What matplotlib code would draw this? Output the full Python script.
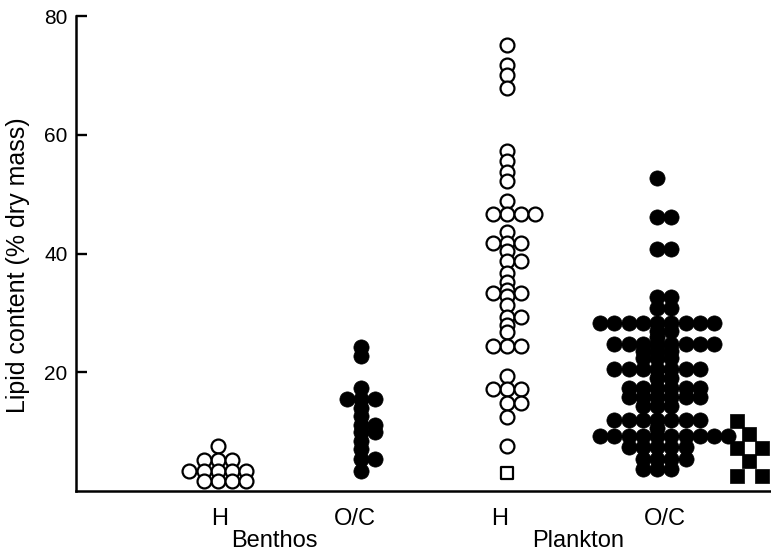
"""Lipid content of benthic and planktonic species, dot plot."""

import numpy as np
import matplotlib

matplotlib.use("Agg")
import matplotlib.pyplot as plt  # noqa: E402

plt.rcParams["font.family"] = ["Liberation Sans", "DejaVu Sans"]

# lipid content, % dry mass
benthos_h = [7.6, 5.2, 5.2, 5.2, 3.4, 3.4, 3.4, 3.4, 3.4, 1.7, 1.7, 1.7, 1.7]
benthos_oc = [24.3, 22.7, 17.3, 15.5, 15.5, 15.5, 13.9, 12.6, 11.2, 11.2,
              9.9, 9.9, 8.5, 7.0, 5.4, 5.4, 3.3]
plankton_h = [75.1, 71.8, 70.1, 67.8, 57.2, 55.5, 53.8, 52.2, 48.8,
              46.7, 46.7, 46.7, 46.7, 43.7, 41.8, 41.8, 41.8, 40.4,
              38.7, 38.7, 36.7, 35.2, 33.9, 33.3, 33.3, 32.8, 31.3,
              29.3, 29.3, 28.0, 26.7, 24.4, 24.4, 24.4, 19.4,
              17.1, 17.1, 17.1, 14.9, 14.9, 12.4, 7.6]
plankton_h_square = [3.1]
plankton_oc = ([52.7, 46.2, 46.2, 40.7, 40.7, 32.6, 32.6, 30.9, 30.9]
               + [28.3] * 9 + [27.0, 27.0, 26.0] + [24.8] * 8 + [23.6] * 3
               + [22.4] * 3 + [20.6] * 7 + [19.0] * 2 + [17.4] * 6
               + [15.9] * 6 + [14.4] * 3 + [12.0] * 7 + [10.6]
               + [9.3] * 10 + [7.4] * 5 + [5.4] * 4 + [3.7] * 3)
plankton_oc_square = [11.8, 9.6, 7.3, 7.3, 5.0, 2.6, 2.6]

tick_labels = ["H", "O/C", "H", "O/C"]
group_labels = ["Benthos", "Plankton"]

# layout (x axis runs 0..10)
CENTERS = [2.04, 4.10, 6.20, 8.36]
SQUARE_CENTER = 9.51
SPACING = 0.205
TICK_POS = [2.07, 4.01, 6.10, 8.47]
GROUP_POS = [2.86, 7.22]


def dot_slots(values, thresh=0.9, one_sided=False):
    """Put each dot in the nearest free column slot next to the centre."""
    if one_sided:
        order = list(range(30))
    else:
        order = [0] + [s for i in range(1, 15) for s in (i, -i)]
    taken, slots = [], []
    for v in values:
        for k in order:
            if not any(s == k and abs(w - v) < thresh for s, w in taken):
                break
        taken.append((k, v))
        slots.append(k)
    return np.array(slots)


def draw(ax, values, center, marker="o", filled=True, s=120, spacing=SPACING, **kw):
    slots = dot_slots(values, **kw)
    x = center + slots * spacing
    ax.scatter(x, values, s=s, marker=marker,
               facecolors="black" if filled else "white",
               edgecolors="black", linewidths=0.5 if filled else 1.6,
               clip_on=False, zorder=3)


fig = plt.figure(figsize=(7.71, 5.51), dpi=100)
ax = fig.add_axes([76 / 771, 60 / 551, 695 / 771, 475 / 551])

draw(ax, benthos_h, CENTERS[0], filled=False, s=100)
draw(ax, benthos_oc, CENTERS[1])
draw(ax, plankton_h, CENTERS[2], filled=False, s=100)
draw(ax, plankton_h_square, CENTERS[2], marker="s", filled=False, s=80)
draw(ax, plankton_oc, CENTERS[3])
draw(ax, plankton_oc_square, SQUARE_CENTER, marker="s", s=90,
     spacing=0.18, thresh=2.5, one_sided=True)

ax.set_xlim(0, 10)
ax.set_ylim(0, 80)
ax.set_yticks([20, 40, 60, 80])
ax.set_xticks([])
ax.tick_params(axis="y", direction="in", length=8, width=1.7,
               labelsize=15, pad=6)

for side in ["top", "right"]:
    ax.spines[side].set_visible(False)
for side in ["left", "bottom"]:
    ax.spines[side].set_linewidth(1.8)

trans = ax.get_xaxis_transform()
for x, lab in zip(TICK_POS, tick_labels):
    ax.text(x, -34 / 475, lab, transform=trans, ha="center",
            va="baseline", fontsize=17)
for x, lab in zip(GROUP_POS, group_labels):
    ax.text(x, -56 / 475, lab, transform=trans, ha="center",
            va="baseline", fontsize=17)

fig.text(18 / 771, (551 - 265) / 551, "Lipid content (% dry mass)",
         rotation=90, ha="center", va="center", fontsize=18)

fig.savefig("out.png", dpi=100)
